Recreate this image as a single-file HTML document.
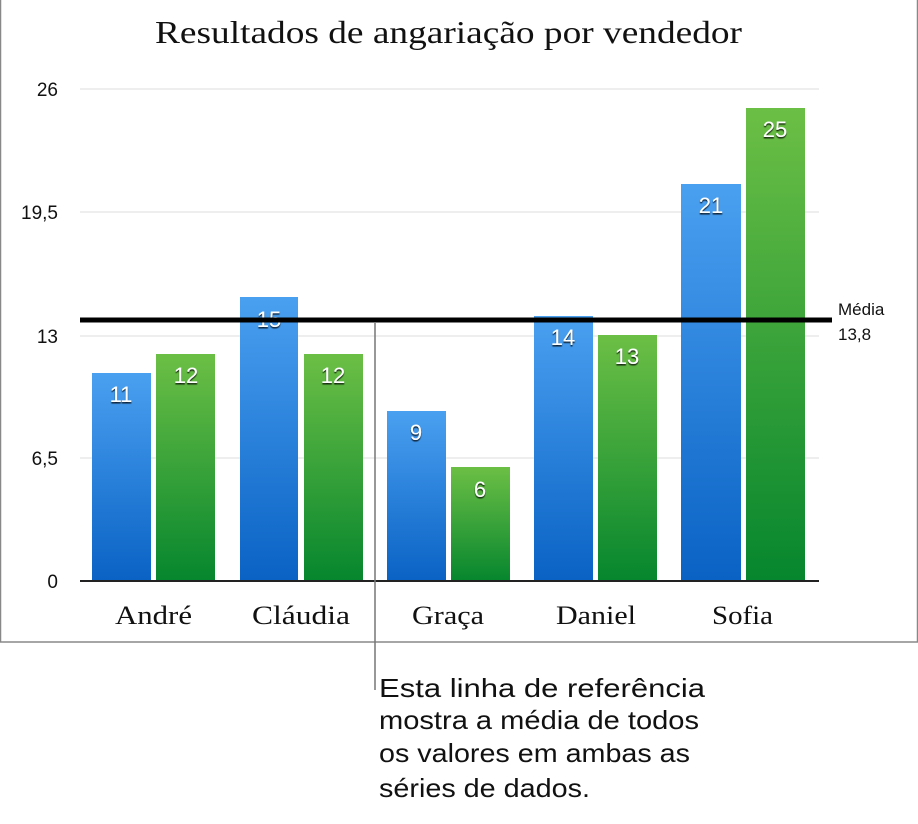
<!DOCTYPE html>
<html><head><meta charset="utf-8"><style>
body{margin:0;background:#fff;width:918px;height:819px;overflow:hidden}
svg text{font-family:"Liberation Sans",sans-serif}
svg text.sf{font-family:"Liberation Serif",serif}
</style></head><body>
<svg width="918" height="819" xmlns="http://www.w3.org/2000/svg">
<defs>
<linearGradient id="b" x1="0" y1="0" x2="0" y2="1"><stop offset="0" stop-color="#4aa0f0"/><stop offset="1" stop-color="#0a62c4"/></linearGradient>
<linearGradient id="g" x1="0" y1="0" x2="0" y2="1"><stop offset="0" stop-color="#6cbf45"/><stop offset="1" stop-color="#06862e"/></linearGradient>
<filter id="s"><feDropShadow dx="0" dy="1.5" stdDeviation="0.6" flood-color="#000" flood-opacity="0.8"/></filter>
</defs>
<rect x="0.5" y="-2" width="917" height="644" fill="none" stroke="#888" stroke-width="1.5"/>
<text class="sf" x="155" y="43" textLength="587" lengthAdjust="spacingAndGlyphs" font-size="32" fill="#111">Resultados de angariação por vendedor</text>
<g stroke="#ddd" stroke-width="1">
<line x1="80" y1="89" x2="819" y2="89"/><line x1="80" y1="212" x2="819" y2="212"/><line x1="80" y1="336" x2="819" y2="336"/><line x1="80" y1="458" x2="819" y2="458"/>
</g>
<g font-size="19" fill="#111" text-anchor="end">
<text x="58" y="96">26</text><text x="58" y="219">19,5</text><text x="58" y="343">13</text><text x="58" y="465">6,5</text><text x="58" y="588">0</text>
</g>
<g>
<rect x="92" y="373" width="59" height="208" fill="url(#b)"/>
<rect x="156" y="354" width="59" height="227" fill="url(#g)"/>
<rect x="240" y="297" width="58" height="284" fill="url(#b)"/>
<rect x="304" y="354" width="59" height="227" fill="url(#g)"/>
<rect x="387" y="411" width="59" height="170" fill="url(#b)"/>
<rect x="451" y="467" width="59" height="114" fill="url(#g)"/>
<rect x="534" y="316" width="59" height="265" fill="url(#b)"/>
<rect x="598" y="335" width="59" height="246" fill="url(#g)"/>
<rect x="681" y="184" width="60" height="397" fill="url(#b)"/>
<rect x="746" y="108" width="59" height="473" fill="url(#g)"/>
</g>
<g font-size="22" fill="#fff" text-anchor="middle" filter="url(#s)">
<text x="121" y="402">11</text><text x="186" y="383">12</text>
<text x="269" y="327">15</text><text x="333" y="383">12</text>
<text x="416" y="440">9</text><text x="480" y="497">6</text>
<text x="563" y="345">14</text><text x="627" y="364">13</text>
<text x="711" y="213">21</text><text x="775" y="137">25</text>
</g>
<line x1="80" y1="581" x2="819" y2="581" stroke="#222" stroke-width="2"/>
<line x1="80" y1="320" x2="832" y2="320" stroke="#000" stroke-width="5"/>
<text x="838" y="315" font-size="17" fill="#111">Média</text>
<text x="838" y="340" font-size="17" fill="#111">13,8</text>
<g font-size="26" fill="#111" lengthAdjust="spacingAndGlyphs">
<text class="sf" x="115" y="624" textLength="77" lengthAdjust="spacingAndGlyphs">André</text>
<text class="sf" x="252" y="624" textLength="98" lengthAdjust="spacingAndGlyphs">Cláudia</text>
<text class="sf" x="412" y="624" textLength="72" lengthAdjust="spacingAndGlyphs">Graça</text>
<text class="sf" x="556" y="624" textLength="80" lengthAdjust="spacingAndGlyphs">Daniel</text>
<text class="sf" x="712" y="624" textLength="61" lengthAdjust="spacingAndGlyphs">Sofia</text>
</g>
<line x1="375" y1="323" x2="375" y2="690" stroke="#777" stroke-width="1.5"/>
<g font-size="26" fill="#111">
<text x="379" y="697" textLength="326" lengthAdjust="spacingAndGlyphs">Esta linha de referência</text>
<text x="379" y="729" textLength="320" lengthAdjust="spacingAndGlyphs">mostra a média de todos</text>
<text x="379" y="762" textLength="311" lengthAdjust="spacingAndGlyphs">os valores em ambas as</text>
<text x="379" y="797" textLength="211" lengthAdjust="spacingAndGlyphs">séries de dados.</text>
</g>
</svg>
</body></html>
